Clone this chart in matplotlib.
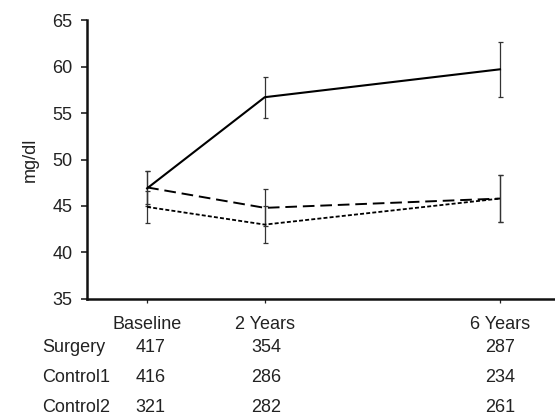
import matplotlib
matplotlib.use("Agg")
import matplotlib.pyplot as plt
from matplotlib.transforms import blended_transform_factory, offset_copy

plt.rcParams['font.family'] = ['Liberation Sans', 'DejaVu Sans']

# Follow-up time points (years) and their labels
years = [0, 2, 6]
time_labels = ["Baseline", "2 Years", "6 Years"]

# Mean HDL cholesterol (mg/dl) and error half-widths per group
surgery = [46.9, 56.7, 59.7]
surgery_err = [1.9, 2.2, 2.95]
control1 = [47.0, 44.8, 45.8]
control1_err = [1.8, 2.0, 2.5]
control2 = [44.9, 43.0, 45.8]
control2_err = [1.7, 2.0, 2.55]

# Number of participants at each time point
group_names = ["Surgery", "Control1", "Control2"]
n_surgery = [417, 354, 287]
n_control1 = [416, 286, 234]
n_control2 = [321, 282, 261]

FS = 13
TXT = "#222222"

fig = plt.figure(figsize=(5.55, 4.17), dpi=100)
ax = fig.add_axes([0.157, 0.283, 0.843, 0.669])

err_kw = dict(ecolor="#333333", elinewidth=0.9, capsize=1.8, capthick=0.9)
ax.errorbar(years, surgery, yerr=surgery_err, color="black", lw=1.5,
            linestyle="-", **err_kw)
ax.errorbar(years, control1, yerr=control1_err, color="black", lw=1.4,
            dashes=(6, 3), **err_kw)
ax.errorbar(years, control2, yerr=control2_err, color="black", lw=1.3,
            dashes=(2.2, 1.2), **err_kw)

ax.set_xlim(-1.02, 6.935)
ax.set_ylim(35, 65)
ax.set_yticks([35, 40, 45, 50, 55, 60, 65])
ax.set_xticks(years)
ax.set_xticklabels(time_labels)

for side in ("top", "right"):
    ax.spines[side].set_visible(False)
for side in ("left", "bottom"):
    ax.spines[side].set_linewidth(1.8)
    ax.spines[side].set_color("#111111")

ax.tick_params(axis="y", length=4.5, width=1.2, pad=6, labelsize=FS,
               colors=TXT)
ax.tick_params(axis="x", length=3, width=0.9, pad=9, labelsize=FS,
               colors=TXT)
ax.set_ylabel("mg/dl", fontsize=FS, color=TXT, labelpad=10)

# Participant counts table beneath the axis
trans = blended_transform_factory(ax.transData, fig.transFigure)
col_shift = [2.5, 1.0, 0.0]  # small per-column nudge in points
rows = [n_surgery, n_control1, n_control2]
row_y = [1 - 347 / 417, 1 - 377 / 417, 1 - 407 / 417]
for name, counts, y in zip(group_names, rows, row_y):
    fig.text(42 / 555, y, name, ha="left", va="center", fontsize=FS,
             color=TXT)
    for x, c, dx in zip(years, counts, col_shift):
        t = offset_copy(trans, fig=fig, x=dx, y=0, units="points")
        ax.text(x, y, str(c), transform=t, ha="center", va="center",
                fontsize=FS, color=TXT)

fig.savefig("out.png", dpi=100)
